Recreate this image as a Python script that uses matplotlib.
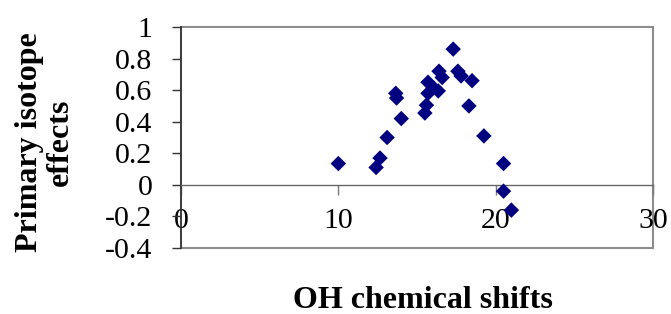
import matplotlib
matplotlib.use("Agg")
import matplotlib.pyplot as plt
from matplotlib.patches import Rectangle

# OH chemical shifts (ppm) and primary isotope effects
oh_shift = [10.0, 12.4, 12.65, 13.1, 13.65, 13.7, 14.0, 15.5, 15.6, 15.7,
            15.7, 16.05, 16.35, 16.4, 16.6, 17.3, 17.6, 17.8, 18.3, 18.5,
            19.25, 20.5, 20.5, 21.0]
isotope_effect = [0.135, 0.11, 0.17, 0.30, 0.58, 0.55, 0.42, 0.455, 0.505, 0.65,
                  0.58, 0.615, 0.595, 0.72, 0.68, 0.86, 0.72, 0.69, 0.50, 0.66,
                  0.31, 0.135, -0.04, -0.16]

x_ticks = [0, 10, 20, 30]
y_ticks = [-0.4, -0.2, 0, 0.2, 0.4, 0.6, 0.8, 1]
y_tick_labels = ["-0.4", "-0.2", "0", "0.2", "0.4", "0.6", "0.8", "1"]

plt.rcParams['font.family'] = ['Liberation Serif', 'DejaVu Serif']

fig = plt.figure(figsize=(6.71, 3.14), dpi=100)
ax = fig.add_axes([181/671, 1-248/314, (653-181)/671, (248-27)/314])

ax.scatter(oh_shift, isotope_effect, marker='D', s=62, color='#000080',
           edgecolors='none', zorder=5, clip_on=False)

ax.set_xlim(0, 30)
ax.set_ylim(-0.4, 1.0)

ax.set_xticks(x_ticks)
ax.set_xticklabels([str(t) for t in x_ticks])
ax.set_yticks(y_ticks)
ax.set_yticklabels(y_tick_labels)

for s in ['top', 'right']:
    ax.spines[s].set_visible(False)
ax.spines['left'].set_color('#333333')
ax.spines['left'].set_linewidth(1.2)
ax.spines['bottom'].set_position(('data', 0))
ax.spines['bottom'].set_color('#666666')
ax.spines['bottom'].set_linewidth(1.0)

# gray plot-area border
ax.add_patch(Rectangle((0, 0), 1, 1, transform=ax.transAxes, fill=False,
                       edgecolor='#8c8c8c', linewidth=1.5, zorder=1, clip_on=False))

ax.tick_params(axis='y', direction='out', length=6.5, width=1, color='#333333',
               labelsize=21.5, pad=14)
ax.tick_params(axis='x', direction='out', length=7, width=1, color='#777777',
               labelsize=21.5, pad=10)

ax.text((423-181)/(653-181), (248-300)/(248-27), 'OH chemical shifts',
        transform=ax.transAxes, ha='center', va='center',
        fontsize=23, fontweight='bold')
fig.text(45/671, 1-142/314, 'Primary isotope\neffects', rotation=90,
         ha='center', va='center', fontsize=23, fontweight='bold',
         linespacing=1.05, multialignment='center')

fig.savefig('out.png', dpi=100)
